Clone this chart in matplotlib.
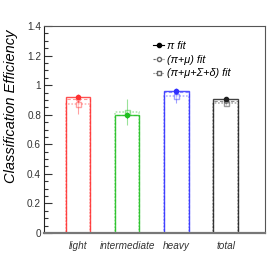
import numpy as np
import matplotlib.pyplot as plt
from matplotlib.ticker import MultipleLocator
from matplotlib.lines import Line2D

# values
categories = ["light", "intermediate", "heavy", "total"]
bar_colors = ["#ff3030", "#20c020", "#3030ff", "#202020"]
pi_fit = [0.918, 0.795, 0.963, 0.904]
pi_err = [0.010, 0.015, 0.010, 0.006]
pimu_fit = [0.905, 0.800, 0.955, 0.893]
pimu_err = [0.020, 0.020, 0.015, 0.010]
full_fit = [0.873, 0.818, 0.928, 0.880]
full_err = [0.065, 0.090, 0.050, 0.015]

plt.rcParams['font.family'] = ['Liberation Sans', 'DejaVu Sans']

fig = plt.figure(figsize=(2.76, 2.66), dpi=100)
ax = fig.add_axes([0.159, 0.124, 0.801, 0.778])

x = np.arange(len(categories))
w = 0.5

for i, c in enumerate(bar_colors):
    ax.bar(x[i], pi_fit[i], width=w, fill=False, edgecolor=c, linewidth=1.0, alpha=0.85, zorder=2)
    ax.bar(x[i], pimu_fit[i], width=w, fill=False, edgecolor=c, linewidth=0.8, linestyle=(0, (3, 2)), alpha=0.5, zorder=2)
    ax.bar(x[i], full_fit[i], width=w, fill=False, edgecolor=c, linewidth=1.2, linestyle=(0, (1, 1)), alpha=0.35, zorder=2)

    ax.errorbar(x[i], full_fit[i], yerr=full_err[i], fmt='s', ms=3.6, mfc='white', mec=c, ecolor=c,
                elinewidth=0.8, alpha=0.45, zorder=3)
    ax.errorbar(x[i], pimu_fit[i], yerr=pimu_err[i], fmt='o', ms=2.6, mfc='white', mec=c, ecolor=c,
                elinewidth=0.8, alpha=0.5, zorder=4)
    ax.errorbar(x[i], pi_fit[i], yerr=pi_err[i], fmt='o', ms=3.0, color=c, elinewidth=0.8, zorder=5)

ax.set_xlim(-0.69, 3.8)
ax.set_ylim(0, 1.4)
ax.set_xticks(x)
ax.set_xticklabels(categories, fontsize=7.2, style='italic')
ax.tick_params(axis='x', length=0, pad=6, colors='#333333')
ax.yaxis.set_major_locator(MultipleLocator(0.2))
ax.yaxis.set_minor_locator(MultipleLocator(0.05))
ax.set_yticks([0, 0.2, 0.4, 0.6, 0.8, 1.0, 1.2, 1.4])
ax.set_yticklabels(["0", "0.2", "0.4", "0.6", "0.8", "1", "1.2", "1.4"])
ax.tick_params(axis='y', which='major', direction='in', length=6, width=0.8, labelsize=7.2, pad=2, colors='#333333')
ax.tick_params(axis='y', which='minor', direction='in', length=3, width=0.8, colors='#333333')
ax.set_ylabel("Classification Efficiency", fontsize=10.5, style='italic')
ax.yaxis.set_label_coords(-0.115, 0.614)

for s in ['top', 'right']:
    ax.spines[s].set_color('#555555')
    ax.spines[s].set_linewidth(0.8)
ax.spines['left'].set_color('#222222')
ax.spines['left'].set_linewidth(0.8)
ax.spines['bottom'].set_color('#777777')
ax.spines['bottom'].set_linewidth(1.6)

handles = [
    Line2D([], [], color='black', marker='o', ms=3, lw=0.8),
    Line2D([], [], color='#666666', marker='o', ms=3, mfc='white', lw=0.8, ls=(0, (2, 1))),
    Line2D([], [], color='#666666', marker='s', ms=3.5, mfc='white', lw=0.8, ls=(0, (1, 1))),
]
labels = ["π fit", "(π+μ) fit", "(π+μ+Σ+δ) fit"]
leg = ax.legend(handles, labels, loc='upper left', bbox_to_anchor=(0.47, 0.955), frameon=False,
                prop={'size': 7.8, 'style': 'italic'}, handlelength=1.0, handletextpad=0.3,
                labelspacing=0.35, borderpad=0)

fig.savefig("out.png", dpi=100)
